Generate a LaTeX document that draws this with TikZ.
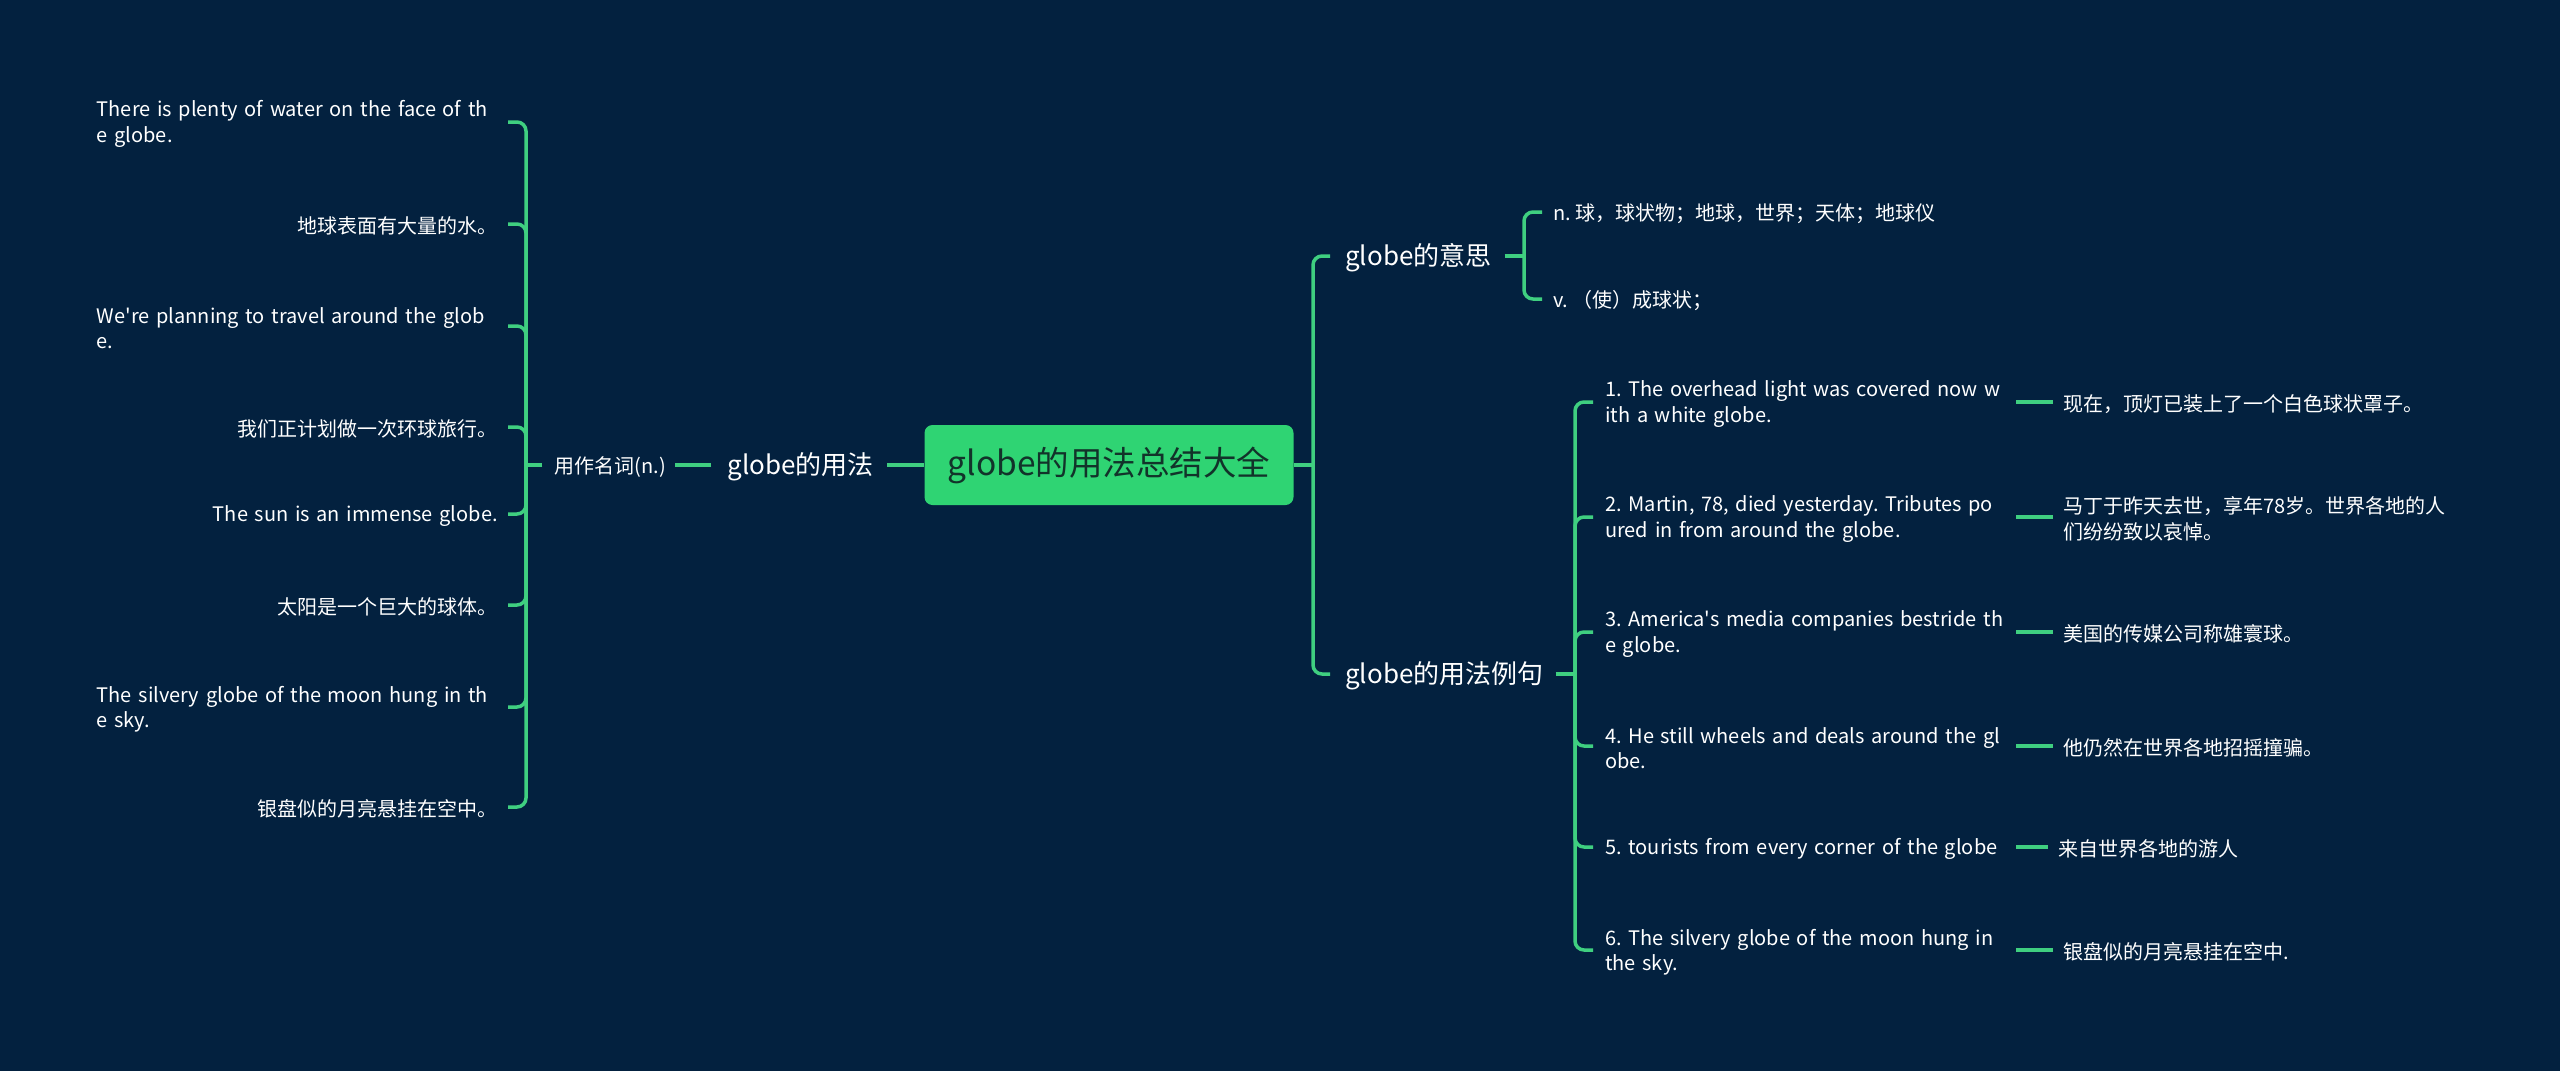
\documentclass[tikz,border=0pt]{standalone}
\usepackage{fontspec}
\setmainfont{Noto Sans CJK SC}
\definecolor{bg}{HTML}{03213F}
\definecolor{gr}{HTML}{2FD473}
\definecolor{ln}{HTML}{3FCF80}
\definecolor{roottext}{HTML}{12332A}
\begin{document}
\frenchspacing
\begin{tikzpicture}[x=1pt,y=-1pt,
  conn/.style={draw=ln, line width=3.5pt, rounded corners=9pt},
  leaf/.style={text=white, font=\fontsize{20}{25.5}\selectfont\frenchspacing, inner sep=0pt, yshift=-2pt},
  lleaf/.style={leaf, anchor=east, text width=401pt},
  rleaf/.style={leaf, anchor=west, text width=400pt, align=left},
  tleaf/.style={leaf, anchor=west, align=left},
  midnode/.style={text=white, font=\fontsize{20}{24}\selectfont, inner sep=0pt, yshift=-2pt},
  bignode/.style={text=white, font=\fontsize{26}{30}\selectfont, inner sep=0pt, yshift=-2pt},
  rootbox/.style={fill=gr, rounded corners=8pt, minimum width=369pt, minimum height=80pt,
    inner sep=0pt, text=roottext, font=\fontsize{33.5}{38}\selectfont}]
\useasboundingbox[fill=bg] (0,0) rectangle (2560,1071);

% root
\node[rootbox] (root) at (1109,465) {globe的用法总结大全};

% left side
\node[bignode, anchor=east] (gyf) at (874,465) {globe的用法};
\node[midnode, anchor=east] (yong) at (666,465) {用作名词(n.)};
\coordinate (lstem) at (526,465);

\node[lleaf, align=left]  (L1) at (498,122) {There is plenty of water on the face of th\\e globe.};
\node[lleaf, align=right] (L2) at (498,224) {地球表面有大量的水。};
\node[lleaf, align=left]  (L3) at (498,326) {We\textquotesingle re planning to travel around the glob\\e.};
\node[lleaf, align=right] (L4) at (498,427) {我们正计划做一次环球旅行。};
\node[lleaf, align=right] (L5) at (498,514) {The sun is an immense globe.};
\node[lleaf, align=right] (L6) at (498,605) {太阳是一个巨大的球体。};
\node[lleaf, align=left]  (L7) at (498,707) {The silvery globe of the moon hung in th\\e sky.};
\node[lleaf, align=right] (L8) at (498,807) {银盘似的月亮悬挂在空中。};

\draw[conn] (root.west) -- ([xshift=13pt,yshift=2pt]gyf.east);
\draw[conn] ([xshift=-16pt,yshift=2pt]gyf.west) -- ([xshift=9pt,yshift=2pt]yong.east);
\draw[conn] ([xshift=-12pt,yshift=2pt]yong.west) -- (lstem);
\foreach \i in {1,...,8} {
  \draw[conn] (lstem) |- ([xshift=10pt,yshift=2pt]L\i.east);
}

% right side
\coordinate (rstem) at (1313,465);
\node[bignode, anchor=west] (yisi) at (1345,256) {globe的意思};
\node[bignode, anchor=west] (liju) at (1345,674) {globe的用法例句};
\draw[conn] (root.east) -- (rstem);
\draw[conn] (rstem) |- ([xshift=-15pt,yshift=2pt]yisi.west);
\draw[conn] (rstem) |- ([xshift=-15pt,yshift=2pt]liju.west);

% meanings
\coordinate (ystem) at (1524,256);
\node[tleaf] (M1) at (1553,212) {n. 球，球状物；地球，世界；天体；地球仪};
\node[tleaf] (M2) at (1553,299) {v. （使）成球状；};
\draw[conn] ([xshift=13pt,yshift=2pt]yisi.east) -- (ystem);
\draw[conn] (ystem) |- ([xshift=-11pt,yshift=2pt]M1.west);
\draw[conn] (ystem) |- ([xshift=-11pt,yshift=2pt]M2.west);

% examples
\coordinate (jstem) at (1575,674);
\draw[conn] ([xshift=12pt,yshift=2pt]liju.east) -- (jstem);
\node[rleaf] (E1) at (1605,402) {1. The overhead light was covered now w\\ith a white globe.};
\node[rleaf] (E2) at (1605,517) {2. Martin, 78, died yesterday. Tributes po\\ured in from around the globe.};
\node[rleaf] (E3) at (1605,632) {3. America\textquotesingle s media companies bestride th\\e globe.};
\node[rleaf] (E4) at (1605,746) {4. He still wheels and deals around the gl\\obe.};
\node[rleaf] (E5) at (1605,847) {5. tourists from every corner of the globe};
\node[rleaf] (E6) at (1605,950) {6. The silvery globe of the moon hung in\\the sky.};

\node[tleaf] (T1) at (2063,402) {现在，顶灯已装上了一个白色球状罩子。};
\node[tleaf] (T2) at (2063,517) {马丁于昨天去世，享年78岁。世界各地的人\\们纷纷致以哀悼。};
\node[tleaf] (T3) at (2063,632) {美国的传媒公司称雄寰球。};
\node[tleaf] (T4) at (2063,746) {他仍然在世界各地招摇撞骗。};
\node[tleaf] (T5) at (2058,847) {来自世界各地的游人};
\node[tleaf] (T6) at (2063,950) {银盘似的月亮悬挂在空中.};

\foreach \i in {1,...,6} {
  \draw[conn] (jstem) |- ([xshift=-12pt,yshift=2pt]E\i.west);
  \draw[conn] ([xshift=11pt,yshift=2pt]E\i.east) -- ([xshift=-10pt,yshift=2pt]T\i.west);
}
\end{tikzpicture}
\end{document}
